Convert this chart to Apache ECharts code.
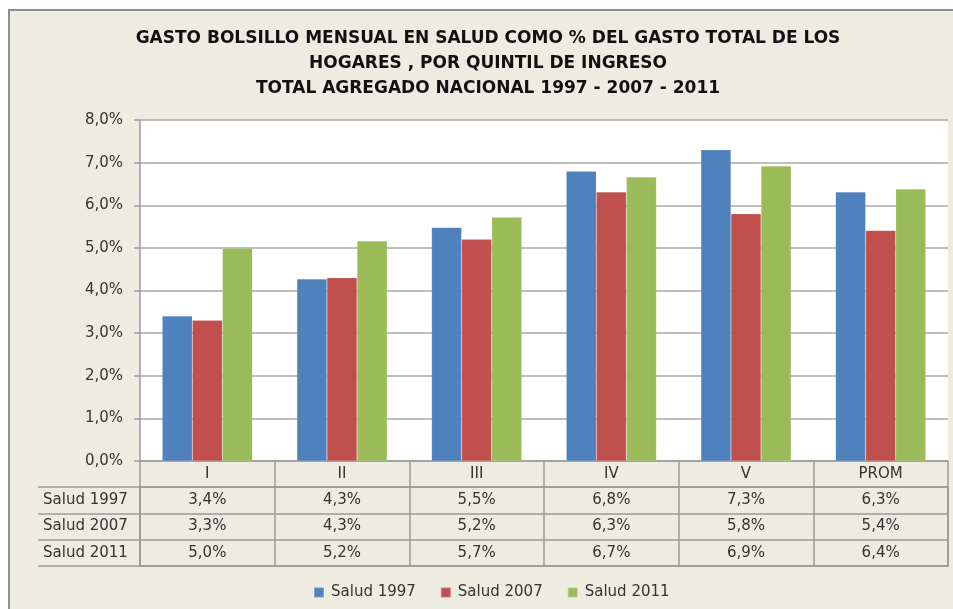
<!DOCTYPE html>
<html>
<head>
<meta charset="utf-8">
<title>Gasto bolsillo en salud</title>
<script src="https://cdn.jsdelivr.net/npm/echarts@6/dist/echarts.min.js"></script>
<style>
  html, body { margin: 0; padding: 0; overflow: hidden; width: 953px; height: 609px; background: #EEECE1; }
  .white-top { position: absolute; left: 0; top: 0; width: 953px; height: 9px; background: #fff; }
  .white-left { position: absolute; left: 0; top: 0; width: 8px; height: 609px; background: #fff; }
  .line-top { position: absolute; left: 8px; top: 9px; width: 945px; height: 2px; background: #8e8e8e; }
  .line-left { position: absolute; left: 8px; top: 9px; width: 2px; height: 600px; background: #8e8e8e; }
  #chart { position: absolute; left: 0; top: 0; width: 953px; height: 609px; }
</style>
</head>
<body>
<div class="white-top"></div>
<div class="white-left"></div>
<div class="line-top"></div>
<div class="line-left"></div>
<div id="chart"></div>
<script>
// categorias (quintiles)
const quintiles = ['I', 'II', 'III', 'IV', 'V', 'PROM'];
const seriesNames = ['Salud 1997', 'Salud 2007', 'Salud 2011'];
// valores en %
const salud1997 = [3.40, 4.27, 5.48, 6.80, 7.30, 6.31];
const salud2007 = [3.30, 4.30, 5.20, 6.31, 5.80, 5.41];
const salud2011 = [4.99, 5.16, 5.72, 6.66, 6.92, 6.38];
const colors = ['#4F81BD', '#C0504D', '#9BBB59'];

const fontFamily = 'DejaVu Sans';
const textColor = '#333';
const lineColor = '#9a9a9a';

function pct(v) {
  return v.toFixed(1).replace('.', ',') + '%';
}

// celdas de la tabla de datos: [columna, fila, valor]
const allSeries = [salud1997, salud2007, salud2011];
const tableCells = [];
allSeries.forEach((vals, row) => {
  vals.forEach((v, col) => tableCells.push([col, row, v]));
});

const chart = echarts.init(document.getElementById('chart'));

const barStyle = { borderColor: 'rgba(255,255,255,0.25)', borderWidth: 0.5 };

chart.setOption({
  backgroundColor: 'transparent',
  animation: false,
  color: colors,
  title: {
    text: 'GASTO BOLSILLO MENSUAL EN SALUD COMO % DEL GASTO TOTAL DE LOS\nHOGARES , POR QUINTIL DE INGRESO\nTOTAL AGREGADO NACIONAL 1997 - 2007 - 2011',
    left: 483,
    top: 21,
    textAlign: 'center',
    textStyle: {
      fontFamily: fontFamily,
      fontSize: 17,
      fontWeight: 'bold',
      color: '#111',
      lineHeight: 25
    }
  },
  legend: {
    data: seriesNames,
    left: 308,
    top: 580,
    icon: 'rect',
    itemWidth: 10,
    itemHeight: 10,
    itemGap: 24,
    textStyle: { fontFamily: fontFamily, fontSize: 15, color: textColor, padding: [0, 0, 0, 2] }
  },
  grid: [
    { left: 140, right: 5, top: 120, height: 341, show: true, backgroundColor: '#fff', borderWidth: 0 },
    { left: 140, right: 5, top: 487, height: 79, show: true, backgroundColor: 'transparent', borderColor: lineColor, borderWidth: 1.5 }
  ],
  xAxis: [
    {
      type: 'category', gridIndex: 0, data: quintiles,
      axisLine: { show: true, lineStyle: { color: lineColor, width: 1.5 } },
      axisTick: { show: true, length: 26, lineStyle: { color: lineColor, width: 1.5 } },
      axisLabel: { margin: 6, fontFamily: fontFamily, fontSize: 15, color: textColor }
    },
    {
      type: 'category', gridIndex: 1, data: quintiles,
      axisLine: { show: false }, axisTick: { show: false }, axisLabel: { show: false },
      splitLine: { show: true, lineStyle: { color: lineColor, width: 1.5 } }
    }
  ],
  yAxis: [
    {
      type: 'value', gridIndex: 0, min: 0, max: 8, interval: 1,
      axisLine: { show: true, lineStyle: { color: lineColor, width: 1.5 } },
      axisTick: { show: true, length: 6, lineStyle: { color: lineColor, width: 1.5 } },
      axisLabel: { margin: 17, fontFamily: fontFamily, fontSize: 15, color: textColor, formatter: pct },
      splitLine: { show: true, lineStyle: { color: '#a8a8a8', width: 1.5 } }
    },
    {
      type: 'category', gridIndex: 1, data: seriesNames, inverse: true,
      axisLine: { show: true, lineStyle: { color: lineColor, width: 1.5 } },
      axisTick: { show: true, length: 102, lineStyle: { color: lineColor, width: 1.5 } },
      axisLabel: { align: 'left', margin: 97, fontFamily: fontFamily, fontSize: 15, color: textColor },
      splitLine: { show: true, lineStyle: { color: lineColor, width: 1.5 } }
    },
    {
      type: 'category', gridIndex: 1, data: seriesNames, inverse: true, offset: 102,
      axisLine: { show: true, lineStyle: { color: lineColor, width: 1.5 } },
      axisTick: { show: false }, axisLabel: { show: false }
    }
  ],
  series: [
    {
      name: seriesNames[0], type: 'bar', data: salud1997,
      barCategoryGap: '33%', barGap: '0%', itemStyle: barStyle
    },
    {
      name: seriesNames[1], type: 'bar', data: salud2007,
      barCategoryGap: '33%', barGap: '0%', itemStyle: barStyle
    },
    {
      name: seriesNames[2], type: 'bar', data: salud2011,
      barCategoryGap: '33%', barGap: '0%', itemStyle: barStyle
    },
    {
      name: 'tabla', type: 'custom', xAxisIndex: 1, yAxisIndex: 1,
      data: tableCells,
      silent: true,
      renderItem: function (params, api) {
        const p = api.coord([api.value(0), api.value(1)]);
        return {
          type: 'text',
          x: p[0], y: p[1],
          style: {
            text: pct(api.value(2)),
            align: 'center', verticalAlign: 'middle',
            fill: textColor,
            font: '15px "' + fontFamily + '"'
          }
        };
      }
    }
  ]
});
</script>
</body>
</html>
